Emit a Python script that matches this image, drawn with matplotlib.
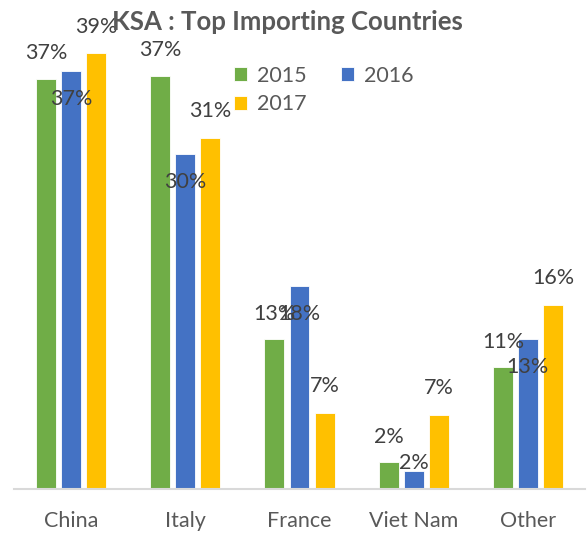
import matplotlib.pyplot as plt
import numpy as np

countries = ['China', 'Italy', 'France', 'Viet Nam', 'Other']
years = ['2015', '2016', '2017']
share_2015 = [36.7, 37.0, 13.4, 2.4, 10.9]
share_2016 = [37.4, 30.0, 18.2, 1.6, 13.4]
share_2017 = [39.0, 31.4, 6.8, 6.6, 16.5]
cols = ['#70AD47', '#4472C4', '#FFC000']

plt.rcParams['font.family'] = ['Lato', 'DejaVu Sans']

fig = plt.figure(figsize=(5.87, 5.33), dpi=100)
ax = fig.add_axes([14 / 587, 44 / 533, 571 / 587, 449 / 533])

x = np.arange(len(countries))
width = 0.175
step = 0.219
# label offsets (in % units) per series, roughly like the excel output
offsets = [2.3, -2.5, 2.4]

bars = []
for i, (vals, col) in enumerate(zip([share_2015, share_2016, share_2017], cols)):
    xs = x + (i - 1) * step
    b = ax.bar(xs, vals, width, color=col, edgecolor='white', linewidth=0.6, label=years[i])
    bars.append(b)
    for xi, v in zip(xs, vals):
        ly = v + offsets[i]
        if ly < 1.5:
            ly = v + 0.7
        ax.text(xi, ly, '%d%%' % round(v), ha='center', va='center',
                fontsize=15.5, color='#404040')

ax.set_xlim(-0.5, len(countries) - 0.5)
ax.set_ylim(0, 40.2)
ax.set_xticks(x)
ax.set_xticklabels(countries, fontsize=15.5, color='#595959')
ax.tick_params(axis='x', length=0, pad=16)
ax.set_yticks([])
for s in ['top', 'right', 'left']:
    ax.spines[s].set_visible(False)
ax.spines['bottom'].set_color('#D9D9D9')
ax.spines['bottom'].set_linewidth(1.5)

fig.text(287 / 587, (533 - 30) / 533, 'KSA : Top Importing Countries', ha='center',
         va='baseline', fontsize=18.5, fontweight='bold', color='#595959')

hs = [bars[0], bars[2], bars[1]]
ls = [years[0], years[2], years[1]]
fig.legend(hs, ls, loc='upper left', bbox_to_anchor=(223 / 587, (533 - 55) / 533),
           ncol=2, frameon=False, fontsize=15.5, handlelength=0.62, handleheight=0.62,
           handletextpad=0.45, columnspacing=1.6, labelspacing=0.4, borderpad=0,
           labelcolor='#595959')

fig.savefig('out.png', dpi=100)
